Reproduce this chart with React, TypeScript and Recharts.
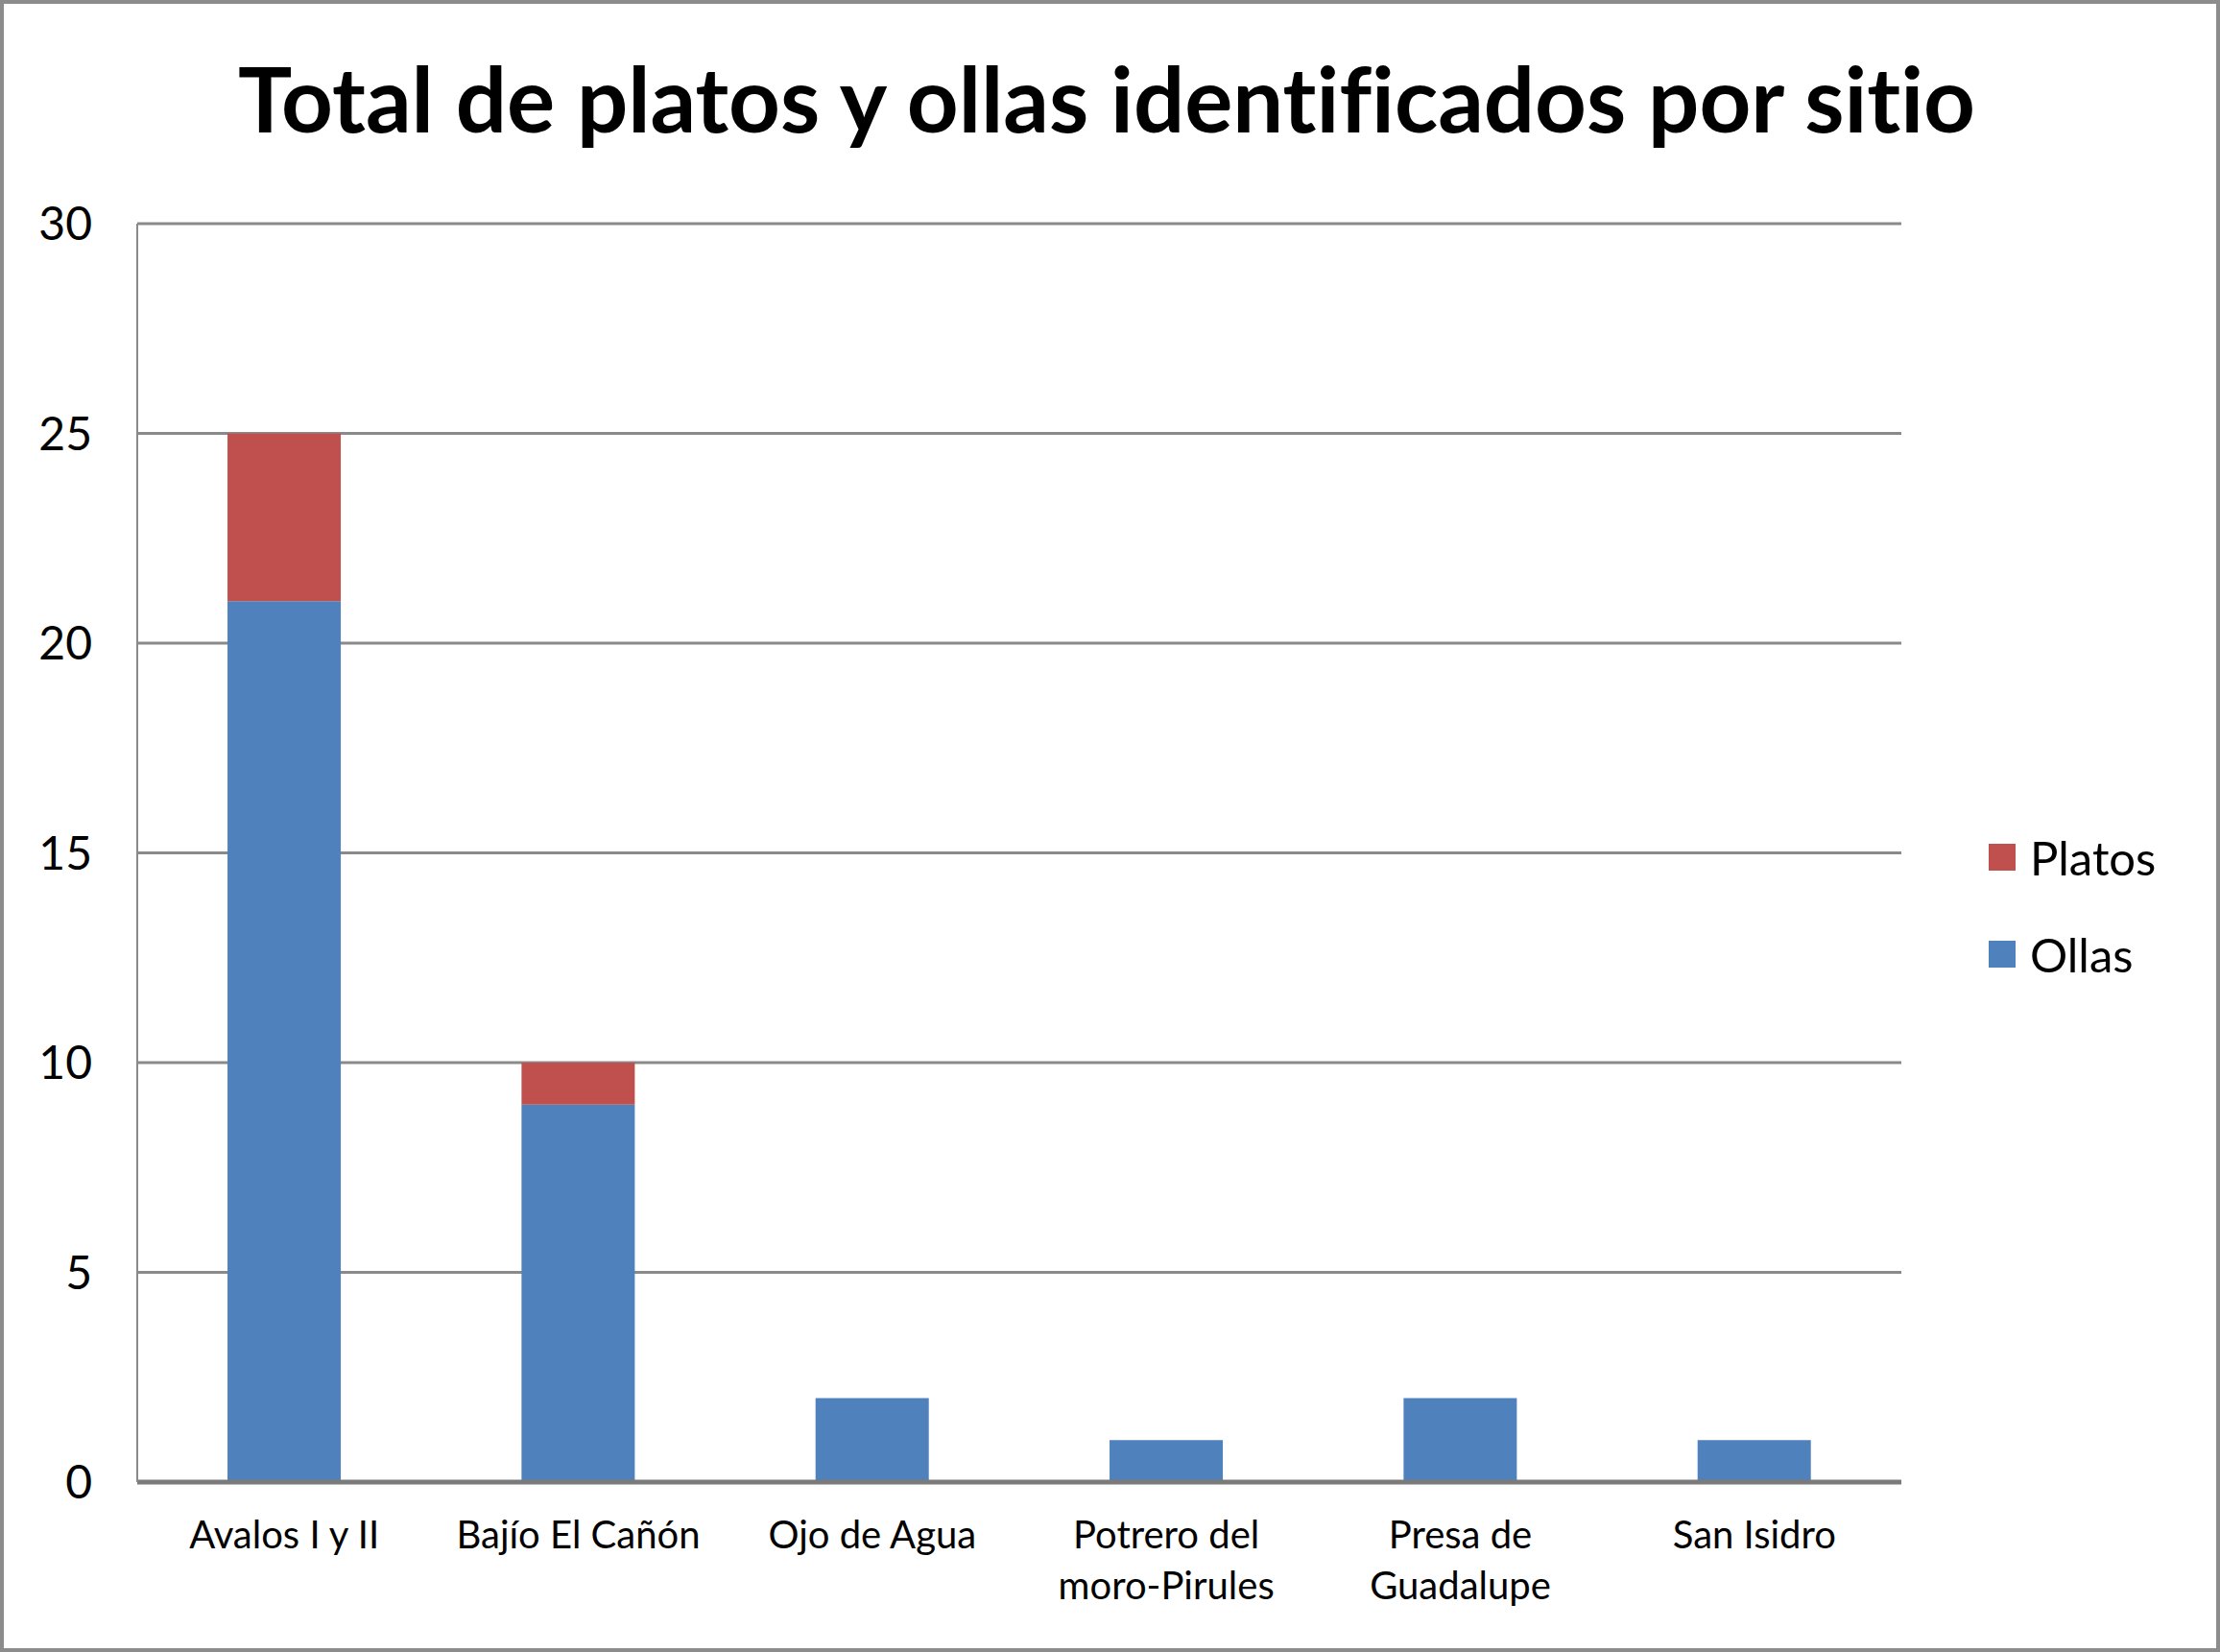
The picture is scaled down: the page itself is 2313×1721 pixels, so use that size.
import React from 'react';
import { BarChart, Bar, XAxis, YAxis, CartesianGrid } from 'recharts';

const categories = [
  'Avalos I y II',
  'Bajío El Cañón',
  'Ojo de Agua',
  'Potrero del\nmoro-Pirules',
  'Presa de\nGuadalupe',
  'San Isidro',
];
const ollas = [21, 9, 2, 1, 2, 1];
const platos = [4, 1, 0, 0, 0, 0];
const yTicks = [0, 5, 10, 15, 20, 25, 30];

const BLUE = '#4f81bd';
const RED = '#c0504d';
const FONT = 'Lato, "Open Sans", sans-serif';

const chartData = categories.map((name, i) => ({
  name,
  Ollas: ollas[i],
  Platos: platos[i],
}));

// multi-line category labels under the x axis
const CategoryTick = (props: any) => {
  const { x, y, payload } = props;
  const lines = String(payload.value).split('\n');
  return (
    <text x={x} y={y} textAnchor="middle" fill="#000" fontSize={40} fontFamily={FONT}>
      {lines.map((line, i) => (
        <tspan key={i} x={x} dy={i === 0 ? 69 : 53}>
          {line}
        </tspan>
      ))}
    </text>
  );
};

const legendItems = [
  { label: 'Platos', color: RED, top: 879 },
  { label: 'Ollas', color: BLUE, top: 980 },
];

export default function App() {
  return (
    <div
      style={{
        position: 'absolute',
        left: 0,
        top: 0,
        width: 2313,
        height: 1721,
        background: '#fff',
        fontVariantLigatures: 'none',
      }}
    >
      <svg width={2313} height={200} style={{ position: 'absolute', left: 0, top: 0 }}>
        <text
          x={1153}
          y={138}
          textAnchor="middle"
          fontFamily={FONT}
          fontWeight={700}
          fontSize={94}
          fill="#000"
          textLength={1810}
          lengthAdjust="spacingAndGlyphs"
          style={{ fontVariantLigatures: 'none' }}
        >
          Total de platos y ollas identificados por sitio
        </text>
      </svg>
      <div style={{ position: 'absolute', left: 0, top: 0 }}>
        <BarChart
          width={2313}
          height={1721}
          data={chartData}
          margin={{ top: 233, right: 332, bottom: 0, left: 0 }}
          barCategoryGap="30.7%"
        >
          <CartesianGrid vertical={false} stroke="#8a8a8a" strokeWidth={3} />
          <XAxis
            dataKey="name"
            height={177}
            tickLine={false}
            tickSize={0}
            tickMargin={0}
            interval={0}
            axisLine={{ stroke: '#7a7a7a', strokeWidth: 5 }}
            tick={<CategoryTick />}
          />
          <YAxis
            width={143}
            domain={[0, 30]}
            ticks={yTicks}
            tickLine={false}
            tickSize={0}
            tickMargin={47}
            axisLine={{ stroke: '#8a8a8a', strokeWidth: 2 }}
            tick={{ fontSize: 48, fill: '#000', fontFamily: FONT }}
          />
          <Bar dataKey="Ollas" stackId="a" fill={BLUE} isAnimationActive={false} />
          <Bar dataKey="Platos" stackId="a" fill={RED} isAnimationActive={false} />
        </BarChart>
      </div>
      {legendItems.map((item) => (
        <div
          key={item.label}
          style={{ position: 'absolute', left: 2072, top: item.top, display: 'flex', alignItems: 'center' }}
        >
          <div style={{ width: 28, height: 28, background: item.color }} />
          <span
            style={{ marginLeft: 15, fontFamily: FONT, fontSize: 49, color: '#000', lineHeight: '28px' }}
          >
            {item.label}
          </span>
        </div>
      ))}
      <div
        style={{
          position: 'absolute',
          left: 0,
          top: 0,
          width: 2313,
          height: 1721,
          boxSizing: 'border-box',
          border: '4px solid #8c8c8c',
          pointerEvents: 'none',
        }}
      />
    </div>
  );
}
